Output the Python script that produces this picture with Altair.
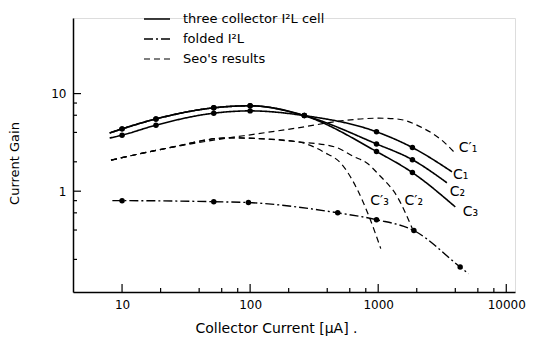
import altair as alt
import pandas as pd

# ---- data (log-log axes) ----
c1_x = [8.0, 10, 18.4, 52, 100, 265, 970, 1850, 3770]
c1_y = [3.5, 3.75, 4.75, 6.3, 6.65, 5.95, 4.06, 2.8, 1.58]
c2_x = [8.0, 10, 18.4, 52, 100, 265, 970, 1850, 3440]
c2_y = [3.95, 4.35, 5.5, 7.15, 7.5, 5.95, 3.05, 2.1, 1.22]
c3_x = [8.0, 10, 18.4, 52, 100, 265, 970, 1850, 4000]
c3_y = [3.95, 4.35, 5.5, 7.15, 7.5, 5.95, 2.55, 1.55, 0.69]

fold_x = [8.4, 10, 52, 97, 483, 970, 1900, 4365, 5070]
fold_y = [0.80, 0.80, 0.78, 0.765, 0.60, 0.51, 0.395, 0.167, 0.143]

seo1_x = [8.2, 21.9, 68, 106, 237, 545, 1000, 1400, 2140, 3250, 4000]
seo1_y = [2.08, 2.74, 3.52, 3.82, 4.46, 5.3, 5.6, 5.5, 4.56, 3.2, 2.44]
seo2_x = [8.2, 21.9, 68, 109, 237, 456, 651, 826, 1000, 1411, 1846]
seo2_y = [2.08, 2.74, 3.52, 3.47, 3.2, 2.85, 2.25, 1.92, 1.5, 0.875, 0.414]
seo3_x = [8.2, 21.9, 68, 109, 237, 380, 513, 692, 851, 1047]
seo3_y = [2.08, 2.74, 3.52, 3.47, 3.2, 2.5, 1.92, 1.02, 0.545, 0.258]

types = ["three collector I²L cell", "folded I²L", "Seo's results"]

label_text = ["C′₁", "C₁", "C₂", "C₃", "C′₃", "C′₂"]
label_x = [4250, 3840, 3615, 4580, 867, 1607]
label_y = [2.78, 1.48, 0.98, 0.605, 0.795, 0.795]

x_major = [10, 100, 1000, 10000]
x_minor = [20, 40, 60, 80, 200, 400, 600, 800, 2000, 4000, 6000, 8000]
y_major = [1, 10]
y_minor = [0.2, 0.4, 0.6, 0.8, 2, 4, 6, 8]

# ---- build tables ----
rows = []
curves = [
    ("C1", types[0], c1_x, c1_y), ("C2", types[0], c2_x, c2_y), ("C3", types[0], c3_x, c3_y),
    ("F", types[1], fold_x, fold_y),
    ("S1", types[2], seo1_x, seo1_y), ("S2", types[2], seo2_x, seo2_y), ("S3", types[2], seo3_x, seo3_y),
]
dot_rows = []
for name, t, xs, ys in curves:
    for i, (a, b) in enumerate(zip(xs, ys)):
        rows.append({"curve": name, "type": t, "x": a, "y": b, "i": i})
        if t != types[2] and 0 < i < len(xs) - 1:
            dot_rows.append({"x": a, "y": b})
lines_df = pd.DataFrame(rows)
dots_df = pd.DataFrame(dot_rows)
labels_df = pd.DataFrame({"x": label_x, "y": label_y, "t": label_text})

W, H = 442, 274
xscale = alt.Scale(type="log", domain=[4.14, 11700], nice=False)
yscale = alt.Scale(type="log", domain=[0.0927, 59.5], nice=False)

xaxis = alt.Axis(values=x_major, format="d", ticks=False, grid=False,
                 domainColor="black", domainWidth=1.5, labelFontSize=12,
                 labelPadding=7, labelColor="black",
                 title="Collector Current  [μA]  .", titleFontSize=14,
                 titleFontWeight="normal", titleColor="black",
                 titleX=203, titleY=36, titleBaseline="middle", titleAlign="center")
yaxis = alt.Axis(values=y_major, format="d", ticks=False, grid=False,
                 domainColor="black", domainWidth=1.5, labelFontSize=12,
                 labelPadding=7, labelColor="black",
                 title="Current Gain", titleFontSize=13, titleFontWeight="normal",
                 titleColor="black", titleX=-59, titleY=145,
                 titleBaseline="middle", titleAlign="center")

X = alt.X("x:Q", scale=xscale, axis=xaxis)
Y = alt.Y("y:Q", scale=yscale, axis=yaxis)

lines = alt.Chart(lines_df).mark_line(interpolate="monotone", color="black", clip=True).encode(
    x=X, y=Y,
    detail="curve:N",
    order="i:Q",
    strokeDash=alt.StrokeDash(
        "type:N",
        scale=alt.Scale(domain=types, range=[[1, 0], [9, 3, 2, 3], [6, 4]]),
        legend=alt.Legend(title=None, orient="none", legendX=70, legendY=-9,
                          symbolType="stroke", symbolSize=676, symbolStrokeWidth=1.5,
                          symbolStrokeColor="black", labelFontSize=13, labelColor="black",
                          labelOffset=12, clipHeight=20, rowPadding=0, padding=0),
    ),
    strokeWidth=alt.StrokeWidth("type:N", scale=alt.Scale(domain=types, range=[1.6, 1.2, 1.1]), legend=None),
)

dots = alt.Chart(dots_df).mark_circle(color="black", opacity=1, size=30).encode(x=X, y=Y)

labels = alt.Chart(labels_df).mark_text(align="left", baseline="middle", fontSize=14, color="black").encode(
    x=X, y=Y, text="t:N")

xmaj = alt.Chart(pd.DataFrame({"x": x_major})).mark_rule(color="black", strokeWidth=1.2).encode(
    x=X, y=alt.value(H), y2=alt.value(H - 8))
xmin = alt.Chart(pd.DataFrame({"x": x_minor})).mark_rule(color="black", strokeWidth=1.2).encode(
    x=X, y=alt.value(H), y2=alt.value(H - 4))
ymaj = alt.Chart(pd.DataFrame({"y": y_major})).mark_rule(color="black", strokeWidth=1.2).encode(
    y=Y, x=alt.value(0), x2=alt.value(8))
ymin = alt.Chart(pd.DataFrame({"y": y_minor})).mark_rule(color="black", strokeWidth=1.2).encode(
    y=Y, x=alt.value(0), x2=alt.value(4))

chart = alt.layer(lines, dots, labels, xmaj, xmin, ymaj, ymin).properties(
    width=W, height=H,
    padding={"left": 65, "top": 10, "right": 17, "bottom": 45},
    autosize=alt.AutoSizeParams(type="none"),
).configure_view(stroke=None).configure(font="DejaVu Sans", background="white")

chart.save("out.html", embed_options={"renderer": "svg", "actions": False})
